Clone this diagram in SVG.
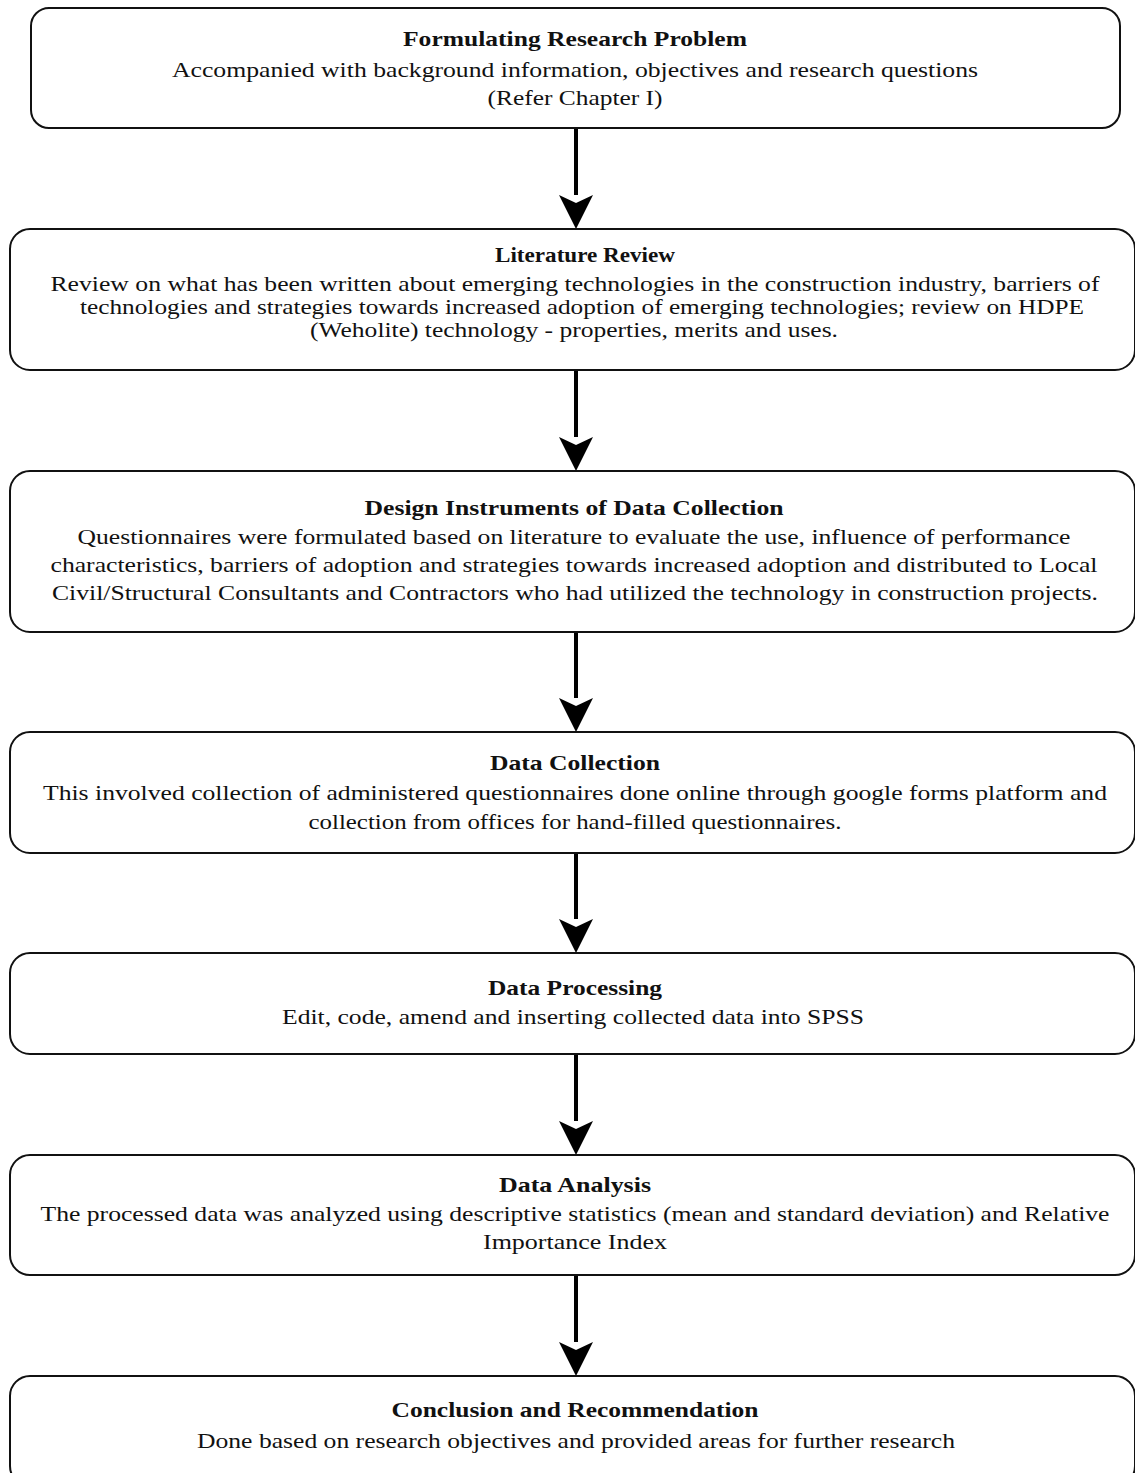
<svg xmlns="http://www.w3.org/2000/svg" width="1135" height="1473" viewBox="0 0 1135 1473">
<style>
.box{fill:#fff;stroke:#111;stroke-width:2}
text{font-family:"Liberation Serif","Times New Roman",serif;font-size:22px;fill:#111;text-anchor:middle}
.t{font-weight:bold}
.c{stroke:#000;stroke-width:4;fill:none}
</style>
<rect width="1135" height="1473" fill="#fff"/>
<g id="connectors">
<line class="c" x1="576" y1="129" x2="576" y2="195"/>
<line class="c" x1="576" y1="371" x2="576" y2="437"/>
<line class="c" x1="576" y1="633" x2="576" y2="698"/>
<line class="c" x1="576" y1="854" x2="576" y2="919"/>
<line class="c" x1="576" y1="1055" x2="576" y2="1121"/>
<line class="c" x1="576" y1="1276" x2="576" y2="1342"/>
<path d="M559,195 L576,229 L593,195 L576,203 Z" fill="#000"/>
<path d="M559,437 L576,471 L593,437 L576,445 Z" fill="#000"/>
<path d="M559,698 L576,732 L593,698 L576,706 Z" fill="#000"/>
<path d="M559,919 L576,953 L593,919 L576,927 Z" fill="#000"/>
<path d="M559,1121 L576,1155 L593,1121 L576,1129 Z" fill="#000"/>
<path d="M559,1342 L576,1376 L593,1342 L576,1350 Z" fill="#000"/>
</g>
<g id="n1">
<rect class="box" x="31" y="8" width="1089" height="120" rx="18"/>
<text class="t" x="575" y="46" textLength="344" lengthAdjust="spacingAndGlyphs">Formulating Research Problem</text>
<text x="575" y="77" textLength="806" lengthAdjust="spacingAndGlyphs">Accompanied with background information, objectives and research questions</text>
<text x="575" y="105" textLength="175" lengthAdjust="spacingAndGlyphs">(Refer Chapter I)</text>
</g>
<g id="n2">
<rect class="box" x="10" y="229" width="1125" height="141" rx="20"/>
<text class="t" x="585" y="262" textLength="180" lengthAdjust="spacingAndGlyphs">Literature Review</text>
<text x="575" y="291" textLength="1049" lengthAdjust="spacingAndGlyphs">Review on what has been written about emerging technologies in the construction industry, barriers of</text>
<text x="582" y="314" textLength="1004" lengthAdjust="spacingAndGlyphs">technologies and strategies towards increased adoption of emerging technologies; review on HDPE</text>
<text x="574" y="337" textLength="528" lengthAdjust="spacingAndGlyphs">(Weholite) technology - properties, merits and uses.</text>
</g>
<g id="n3">
<rect class="box" x="10" y="471" width="1125" height="161" rx="20"/>
<text class="t" x="574" y="515" textLength="419" lengthAdjust="spacingAndGlyphs">Design Instruments of Data Collection</text>
<text x="574" y="544" textLength="993" lengthAdjust="spacingAndGlyphs">Questionnaires were formulated based on literature to evaluate the use, influence of performance</text>
<text x="574" y="572" textLength="1047" lengthAdjust="spacingAndGlyphs">characteristics, barriers of adoption and strategies towards increased adoption and distributed to Local</text>
<text x="575" y="600" textLength="1046" lengthAdjust="spacingAndGlyphs">Civil/Structural Consultants and Contractors who had utilized the technology in construction projects.</text>
</g>
<g id="n4">
<rect class="box" x="10" y="732" width="1125" height="121" rx="20"/>
<text class="t" x="575" y="770" textLength="170" lengthAdjust="spacingAndGlyphs">Data Collection</text>
<text x="575" y="800" textLength="1064" lengthAdjust="spacingAndGlyphs">This involved collection of administered questionnaires done online through google forms platform and</text>
<text x="575" y="829" textLength="533" lengthAdjust="spacingAndGlyphs">collection from offices for hand-filled questionnaires.</text>
</g>
<g id="n5">
<rect class="box" x="10" y="953" width="1125" height="101" rx="20"/>
<text class="t" x="575" y="995" textLength="174" lengthAdjust="spacingAndGlyphs">Data Processing</text>
<text x="573" y="1024" textLength="582" lengthAdjust="spacingAndGlyphs">Edit, code, amend and inserting collected data into SPSS</text>
</g>
<g id="n6">
<rect class="box" x="10" y="1155" width="1125" height="120" rx="20"/>
<text class="t" x="575" y="1192" textLength="152" lengthAdjust="spacingAndGlyphs">Data Analysis</text>
<text x="575" y="1221" textLength="1069" lengthAdjust="spacingAndGlyphs">The processed data was analyzed using descriptive statistics (mean and standard deviation) and Relative</text>
<text x="575" y="1249" textLength="184" lengthAdjust="spacingAndGlyphs">Importance Index</text>
</g>
<g id="n7">
<rect class="box" x="10" y="1376" width="1125" height="110" rx="20"/>
<text class="t" x="575" y="1417" textLength="367" lengthAdjust="spacingAndGlyphs">Conclusion and Recommendation</text>
<text x="576" y="1448" textLength="758" lengthAdjust="spacingAndGlyphs">Done based on research objectives and provided areas for further research</text>
</g>
</svg>
